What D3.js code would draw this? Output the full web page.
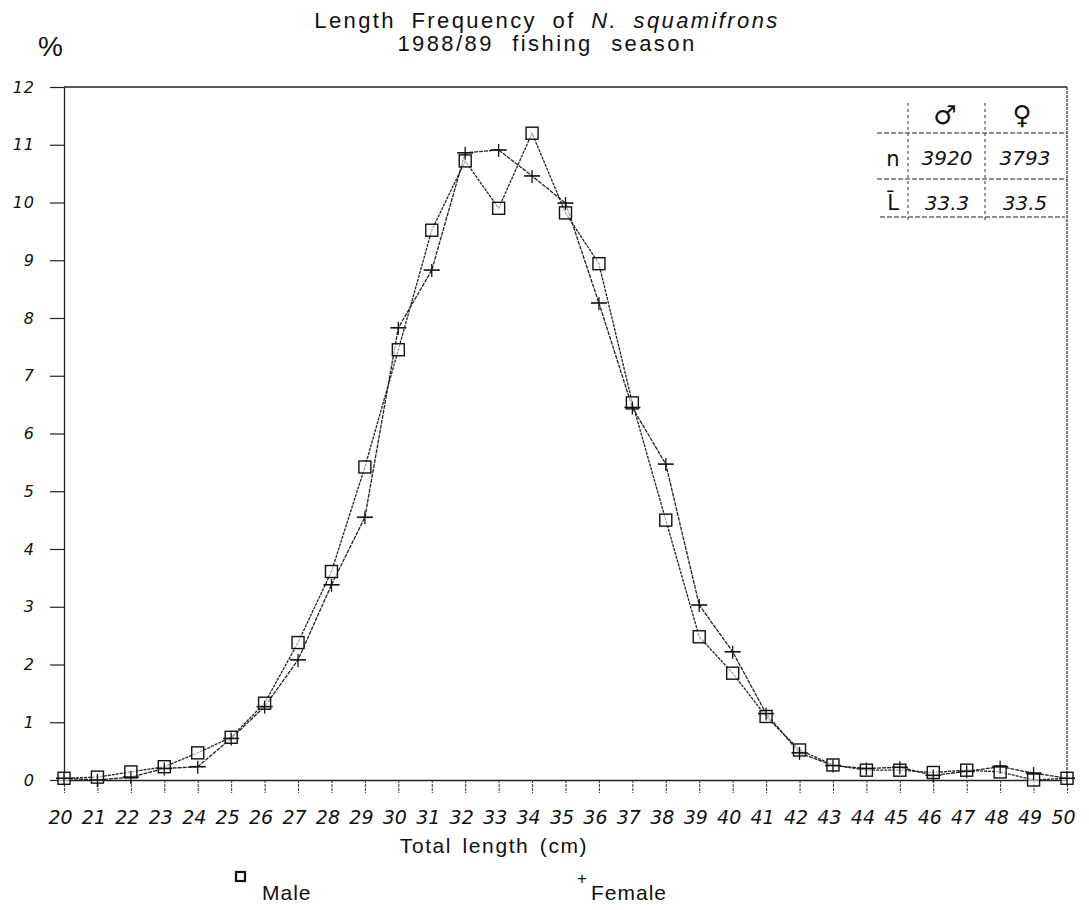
<!DOCTYPE html>
<html>
<head>
<meta charset="utf-8">
<script src="https://cdn.jsdelivr.net/npm/d3@7"></script>
<style>
  body { margin: 0; background: #fff; }
  svg text { fill: #111; }
</style>
</head>
<body>
<div id="chart"></div>
<script>
// Total length classes (cm)
var lengths = d3.range(20, 51);
// Percentage per length class
var maleValues = [0.03, 0.05, 0.14, 0.23, 0.47, 0.74, 1.33, 2.38, 3.61, 5.42,
    7.45, 9.52, 10.72, 9.9, 11.2, 9.82, 8.94, 6.53, 4.5, 2.48,
    1.85, 1.1, 0.52, 0.26, 0.17, 0.17, 0.13, 0.17, 0.14, 0.0, 0.03];
var femaleValues = [0.03, 0.0, 0.05, 0.2, 0.23, 0.72, 1.27, 2.08, 3.38, 4.55,
    7.83, 8.83, 10.86, 10.91, 10.46, 9.99, 8.26, 6.45, 5.47, 3.03,
    2.22, 1.15, 0.47, 0.25, 0.2, 0.22, 0.08, 0.15, 0.23, 0.12, 0.03];
var yTicks = d3.range(0, 13);
var tableHeader = ["\u2642", "\u2640"];
var tableN = ["3920", "3793"];
var tableL = ["33.3", "33.5"];

var width = 1089, height = 910;
var margin = { top: 87, right: 22, bottom: 130, left: 64 };
var sans = "Liberation Sans";

var svg = d3.select("#chart").append("svg")
    .attr("width", width)
    .attr("height", height);

var x = d3.scaleLinear().domain([20, 50]).range([margin.left, width - margin.right]);
var y = d3.scaleLinear().domain([0, 12]).range([height - margin.bottom, margin.top]);

// Frame: top and right borders
svg.append("line")
    .attr("x1", x(20)).attr("x2", x(50))
    .attr("y1", y(12)).attr("y2", y(12))
    .attr("stroke", "#222").attr("stroke-width", 1.4);
svg.append("line")
    .attr("x1", x(50)).attr("x2", x(50))
    .attr("y1", y(12)).attr("y2", y(0))
    .attr("stroke", "#222").attr("stroke-width", 1.2)
    .attr("stroke-dasharray", "3,1");

// Y axis
var yAxis = svg.append("g")
    .attr("transform", "translate(" + x(20) + ",0)")
    .call(d3.axisLeft(y).tickValues(yTicks).tickSize(14).tickPadding(12).tickSizeOuter(0));
yAxis.select(".domain").attr("stroke", "#222").attr("stroke-width", 1.3);
yAxis.selectAll(".tick line").attr("stroke", "#222").attr("stroke-width", 1.2);
yAxis.selectAll("text")
    .attr("font-family", "DejaVu Sans")
    .attr("font-style", "italic")
    .attr("font-size", 16)
    .attr("letter-spacing", 1)
    .attr("x", -29);

// X axis
var xAxis = svg.append("g")
    .attr("transform", "translate(0," + y(0) + ")")
    .call(d3.axisBottom(x).tickValues(lengths).tickSize(13).tickPadding(18).tickSizeOuter(0)
        .tickFormat(d3.format("d")));
xAxis.select(".domain").attr("stroke", "#222").attr("stroke-width", 1.4);
xAxis.selectAll(".tick line").attr("stroke", "#333").attr("stroke-width", 1)
    .attr("stroke-dasharray", "3,1");
xAxis.selectAll("text")
    .attr("font-family", "DejaVu Sans")
    .attr("font-style", "italic")
    .attr("font-size", 19)
    .attr("dx", -4);

// Series lines
var line = d3.line()
    .x(function(d) { return x(d[0]); })
    .y(function(d) { return y(d[1]); });

var maleData = d3.zip(lengths, maleValues);
var femaleData = d3.zip(lengths, femaleValues);

svg.append("path").datum(maleData)
    .attr("d", line)
    .attr("fill", "none").attr("stroke", "#222")
    .attr("stroke-width", 1.3).attr("stroke-dasharray", "3,1");
svg.append("path").datum(femaleData)
    .attr("d", line)
    .attr("fill", "none").attr("stroke", "#222")
    .attr("stroke-width", 1.3).attr("stroke-dasharray", "4,1");

// Male markers: squares
svg.selectAll(".male").data(maleData).enter().append("rect")
    .attr("class", "male")
    .attr("x", function(d) { return x(d[0]) - 6; })
    .attr("y", function(d) { return y(d[1]) - 6; })
    .attr("width", 12).attr("height", 12)
    .attr("fill", "#fff").attr("fill-opacity", 0.6)
    .attr("stroke", "#111").attr("stroke-width", 1.4);

// Female markers: plus
var fem = svg.selectAll(".female").data(femaleData).enter().append("g")
    .attr("class", "female")
    .attr("transform", function(d) { return "translate(" + x(d[0]) + "," + y(d[1]) + ")"; });
fem.append("line").attr("x1", -8).attr("x2", 8).attr("y1", 0).attr("y2", 0)
    .attr("stroke", "#111").attr("stroke-width", 1.6);
fem.append("line").attr("x1", 0).attr("x2", 0).attr("y1", -6).attr("y2", 7)
    .attr("stroke", "#111").attr("stroke-width", 1.3);

// Titles
var title = svg.append("text")
    .attr("x", 547).attr("y", 28)
    .attr("text-anchor", "middle")
    .attr("font-family", sans)
    .attr("font-size", 22)
    .attr("letter-spacing", 2.4)
    .attr("word-spacing", 7);
title.append("tspan").text("Length Frequency of ");
title.append("tspan").attr("font-style", "italic").text("N. squamifrons");

svg.append("text")
    .attr("x", 547).attr("y", 51)
    .attr("text-anchor", "middle")
    .attr("font-family", sans)
    .attr("font-size", 22)
    .attr("letter-spacing", 2.4)
    .attr("word-spacing", 10)
    .text("1988/89 fishing season");

svg.append("text")
    .attr("x", 38).attr("y", 56)
    .attr("font-family", sans)
    .attr("font-size", 28)
    .text("%");

svg.append("text")
    .attr("x", 494).attr("y", 853)
    .attr("text-anchor", "middle")
    .attr("font-family", sans)
    .attr("font-size", 21)
    .attr("letter-spacing", 1.6)
    .attr("word-spacing", 3)
    .text("Total length (cm)");

// Legend
svg.append("rect")
    .attr("x", 236).attr("y", 872).attr("width", 9).attr("height", 9)
    .attr("fill", "none").attr("stroke", "#111").attr("stroke-width", 2.2);
svg.append("text")
    .attr("x", 262).attr("y", 900)
    .attr("font-family", sans)
    .attr("font-size", 21)
    .attr("letter-spacing", 1)
    .text("Male");
svg.append("text")
    .attr("x", 577).attr("y", 884)
    .attr("font-family", sans)
    .attr("font-size", 17)
    .text("+");
svg.append("text")
    .attr("x", 591).attr("y", 900)
    .attr("font-family", sans)
    .attr("font-size", 21)
    .attr("letter-spacing", 1)
    .text("Female");

// Summary table (top right)
var tbl = svg.append("g");
var hand = "DejaVu Sans";
[[877, 133, 1067], [877, 179, 1067], [880, 217, 1065]].forEach(function(r) {
    tbl.append("line").attr("x1", r[0]).attr("x2", r[2]).attr("y1", r[1]).attr("y2", r[1])
        .attr("stroke", "#222").attr("stroke-width", 1.2).attr("stroke-dasharray", "5,2");
});
[908, 985].forEach(function(vx) {
    tbl.append("line").attr("x1", vx).attr("x2", vx).attr("y1", 103).attr("y2", 222)
        .attr("stroke", "#333").attr("stroke-width", 1).attr("stroke-dasharray", "3,3");
});
tbl.selectAll(".hdr").data(tableHeader).enter().append("text")
    .attr("x", function(d, i) { return i === 0 ? 945 : 1022; })
    .attr("y", 124)
    .attr("text-anchor", "middle")
    .attr("font-family", hand)
    .attr("font-weight", "bold")
    .attr("font-size", 26)
    .text(function(d) { return d; });
tbl.append("text").attr("x", 893).attr("y", 166).attr("text-anchor", "middle")
    .attr("font-family", hand).attr("font-size", 21).text("n");
tbl.append("text").attr("x", 893).attr("y", 210).attr("text-anchor", "middle")
    .attr("font-family", hand).attr("font-size", 21).text("L\u0304");
tbl.selectAll(".nv").data(tableN).enter().append("text")
    .attr("x", function(d, i) { return i === 0 ? 947 : 1025; })
    .attr("y", 165)
    .attr("text-anchor", "middle")
    .attr("font-family", hand).attr("font-style", "italic").attr("font-size", 20)
    .text(function(d) { return d; });
tbl.selectAll(".lv").data(tableL).enter().append("text")
    .attr("x", function(d, i) { return i === 0 ? 947 : 1025; })
    .attr("y", 210)
    .attr("text-anchor", "middle")
    .attr("font-family", hand).attr("font-style", "italic").attr("font-size", 20)
    .text(function(d) { return d; });
</script>
</body>
</html>
